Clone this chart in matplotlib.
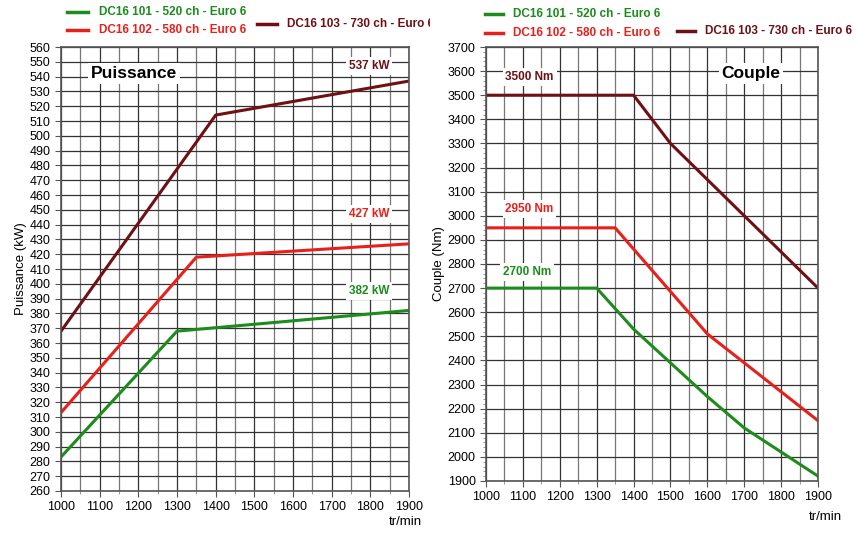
import matplotlib.pyplot as plt
from matplotlib.lines import Line2D
from matplotlib.ticker import MultipleLocator, NullLocator
from matplotlib.patches import Rectangle

plt.rcParams['font.family'] = ['Liberation Sans', 'DejaVu Sans']

# engine names and colours
names = ['DC16 101 - 520 ch - Euro 6', 'DC16 102 - 580 ch - Euro 6', 'DC16 103 - 730 ch - Euro 6']
colors = ['#1c8c1c', '#e8201c', '#6e1014']

# power curves (kW)
p101_rpm = [1000, 1300, 1900]
p101_kw = [283, 368, 382]
p102_rpm = [1000, 1350, 1900]
p102_kw = [313, 418, 427]
p103_rpm = [1000, 1400, 1900]
p103_kw = [368, 514, 537]

# torque curves (Nm)
t101_rpm = [1000, 1300, 1400, 1500, 1600, 1700, 1800, 1900]
t101_nm = [2700, 2700, 2530, 2390, 2250, 2120, 2020, 1920]
t102_rpm = [1000, 1350, 1600, 1900]
t102_nm = [2950, 2950, 2510, 2150]
t103_rpm = [1000, 1400, 1500, 1900]
t103_nm = [3500, 3500, 3300, 2700]

fig = plt.figure(figsize=(8.62, 5.33), dpi=100)
ax1 = fig.add_axes([0.0708, 0.0788, 0.4037, 0.833])
ax2 = fig.add_axes([0.5638, 0.0976, 0.3852, 0.8142])


def style(ax, ymin, ymax, ystep, yminor):
    ax.set_xlim(1000, 1900)
    ax.set_ylim(ymin, ymax)
    ax.xaxis.set_major_locator(MultipleLocator(100))
    ax.xaxis.set_minor_locator(MultipleLocator(50))
    ax.yaxis.set_major_locator(MultipleLocator(ystep))
    if yminor:
        ax.yaxis.set_minor_locator(MultipleLocator(yminor))
    else:
        ax.yaxis.set_minor_locator(NullLocator())
    ax.grid(which='major', axis='both', color='#333333', lw=0.9)
    ax.grid(which='minor', axis='x', color='#777777', lw=0.9)
    ax.tick_params(which='major', direction='out', length=4, labelsize=9, color='#555555')
    ax.tick_params(which='minor', direction='out', length=2, color='#888888')
    for s in ax.spines.values():
        s.set_color('#555555')
        s.set_linewidth(1.2)
    ax.set_axisbelow(True)


style(ax1, 260, 560, 10, None)
style(ax2, 1900, 3700, 100, 20)

for ax, data in [(ax1, [(p101_rpm, p101_kw), (p102_rpm, p102_kw), (p103_rpm, p103_kw)]),
                 (ax2, [(t101_rpm, t101_nm), (t102_rpm, t102_nm), (t103_rpm, t103_nm)])]:
    for (x, y), c in zip(data, colors):
        ax.plot(x, y, color=c, lw=2.2)

box = dict(facecolor='white', edgecolor='none', pad=2)
ax1.text(1189, 542, 'Puissance', fontsize=12.5, fontweight='bold', ha='center', va='center', bbox=box)
ax1.text(1797, 547, '537 kW', fontsize=8.5, fontweight='bold', color=colors[2], ha='center', va='center', bbox=box)
ax1.text(1797, 447, '427 kW', fontsize=8.5, fontweight='bold', color=colors[1], ha='center', va='center', bbox=box)
ax1.text(1797, 395, '382 kW', fontsize=8.5, fontweight='bold', color=colors[0], ha='center', va='center', bbox=box)
ax1.set_ylabel('Puissance (kW)', fontsize=9.5, labelpad=2)

ax2.text(1718, 3590, 'Couple', fontsize=12.5, fontweight='bold', ha='center', va='center', bbox=box)
ax2.text(1118, 3575, '3500 Nm', fontsize=8.5, fontweight='bold', color=colors[2], ha='center', va='center', bbox=box)
ax2.text(1118, 3028, '2950 Nm', fontsize=8.5, fontweight='bold', color=colors[1], ha='center', va='center', bbox=box)
ax2.text(1112, 2766, '2700 Nm', fontsize=8.5, fontweight='bold', color=colors[0], ha='center', va='center', bbox=box)
ax2.set_ylabel('Couple (Nm)', fontsize=9.5, labelpad=2)

W, H = 862, 533
fig.text(422 / W, 1 - 522 / H, 'tr/min', fontsize=9.5, ha='right', va='center')
fig.text(842 / W, 1 - 517 / H, 'tr/min', fontsize=9.5, ha='right', va='center')

# legends drawn above each panel (left one cut at the panel border, as in the source)
clip = Rectangle((0, 0), 430 / W, 1, transform=fig.transFigure, visible=False)
fig.add_artist(clip)
legend_pos = [
    [(67, 88, 99, 12), (67, 88, 99, 30), (257, 277, 287, 24)],
    [(485, 503, 513, 14), (485, 503, 513, 33), (677, 695, 705, 31)],
]
for k, panel in enumerate(legend_pos):
    for (x0, x1, xt, y), c, n in zip(panel, colors, names):
        fig.add_artist(Line2D([x0 / W, x1 / W], [1 - y / H, 1 - y / H], color=c, lw=2.5,
                              transform=fig.transFigure))
        t = fig.text(xt / W, 1 - y / H, n, color=c, fontsize=8.5, fontweight='bold', va='center')
        if k == 0:
            t.set_clip_path(clip)

fig.savefig('out.png', dpi=100)
